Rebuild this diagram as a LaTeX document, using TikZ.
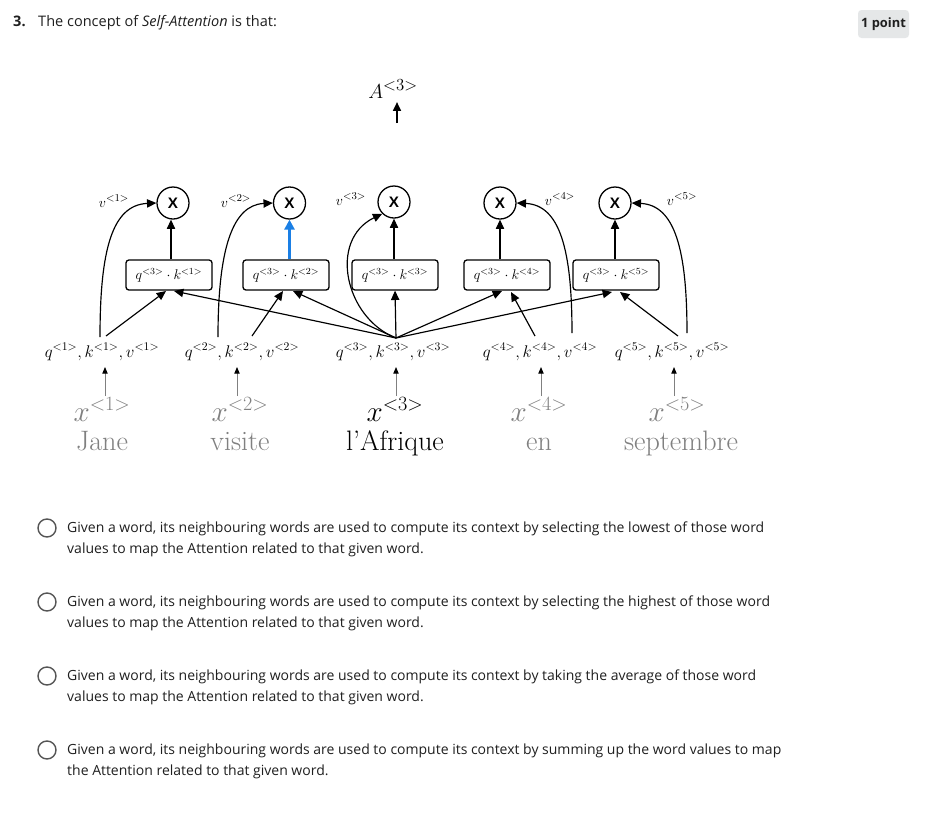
\documentclass[tikz,border=0pt]{standalone}
\usepackage{fontspec}
\usetikzlibrary{arrows.meta,calc}
\newfontfamily\osans{Open Sans}
\newfontfamily\lsans{Liberation Sans}
\definecolor{wordgray}{HTML}{808080}
\definecolor{uitext}{HTML}{1F1F1F}
\definecolor{badgebg}{HTML}{E5E7E8}
\definecolor{myblue}{HTML}{1A7FE5}
\definecolor{radiogray}{HTML}{555555}
\begin{document}
\begin{tikzpicture}[x=0.3mm,y=-0.3mm,
  conn/.style={line width=1pt,-{Triangle[length=2.8mm,width=2.5mm]}},
  thinarr/.style={line width=0.8pt,draw=wordgray,-{Triangle[length=2mm,width=1.6mm,color=black]}},
  dotbox/.style={draw,line width=1.1pt,rounded corners=2.5pt,minimum width=25.8mm,minimum height=9mm,inner sep=0pt,font=\fontsize{11.5}{13}\selectfont},
  mult/.style={circle,draw,line width=1.1pt,minimum size=9.6mm,inner sep=0pt,font=\lsans\bfseries\fontsize{13}{15}\selectfont},
  qkv/.style={anchor=base,font=\fontsize{13.8}{16}\selectfont},
  vlab/.style={anchor=base,font=\fontsize{13}{15}\selectfont},
  xlab/.style={anchor=base,font=\fontsize{24}{26}\selectfont},
  wordlab/.style={anchor=base,font=\fontsize{24}{26}\selectfont},
  ui/.style={anchor=base west,text=uitext,font=\osans\fontsize{11.95}{14}\selectfont,inner sep=0pt},
  radio/.style={circle,draw=radiogray,line width=1.2pt,minimum size=5.4mm,inner sep=0pt}
]
\fill[white] (0,0) rectangle (943,819);
\path[use as bounding box] (0,0) rectangle (943,819);

% header
\node[ui,font=\osans\bfseries\fontsize{12.4}{14}\selectfont] (num) at (13,26) {3.};
\node[ui,font=\osans\fontsize{12.4}{14}\selectfont] (qtext) at (38,26) {The concept of \textit{Self-Attention} is that:};
\node[fill=badgebg,rounded corners=3pt,minimum width=15.3mm,minimum height=8.4mm,inner sep=0pt,text=uitext,font=\osans\bfseries\fontsize{11}{13}\selectfont] (badge) at (883.5,24) {1 point};

% output
\node[anchor=base,font=\fontsize{19}{21}\selectfont] (A) at (393,98) {$A^{<3>}$};
\coordinate (Abot) at (397,123);
\draw[line width=1pt,-{Triangle[length=2.6mm,width=2.4mm]}] (Abot) -- (A.south -| Abot);

% multiply circles
\node[mult] (c1) at (173,203) {X};
\node[mult] (c2) at (289.5,203) {X};
\node[mult] (c3) at (394,202) {X};
\node[mult] (c4) at (500,203) {X};
\node[mult] (c5) at (615,203) {X};

% boxes
\node[dotbox] (b1) at (169,275) {$q^{<3>}\cdot k^{<1>}$};
\node[dotbox] (b2) at (286,275) {$q^{<3>}\cdot k^{<2>}$};
\node[dotbox] (b3) at (395,275) {$q^{<3>}\cdot k^{<3>}$};
\node[dotbox] (b4) at (507,275) {$q^{<3>}\cdot k^{<4>}$};
\node[dotbox] (b5) at (616,275) {$q^{<3>}\cdot k^{<5>}$};

\draw[conn] (b1.north -| c1.south) ++(-2,0) -- ($(c1.south)+(-2,0)$);
\draw[line width=2.2pt,draw=myblue,-{Triangle[length=3mm,width=3mm]}] (b2.north -| c2.south) -- (c2.south);
\draw[conn] (b3.north -| c3.south) -- (c3.south);
\draw[conn] (b4.north -| c4.south) -- (c4.south);
\draw[conn] (b5.north -| c5.south) -- (c5.south);

% v labels
\node[vlab] (v1) at (114,207) {$v^{<1>}$};
\node[vlab] (v2) at (236,207) {$v^{<2>}$};
\node[vlab] (v3) at (351,205) {$v^{<3>}$};
\node[vlab] (v4) at (560,205) {$v^{<4>}$};
\node[vlab] (v5) at (682,205) {$v^{<5>}$};

% qkv labels
\node[qkv] (k1) at (102,357) {$q^{<1>}, k^{<1>}, v^{<1>}$};
\node[qkv] (k2) at (242,357) {$q^{<2>}, k^{<2>}, v^{<2>}$};
\node[qkv] (k3) at (393,357) {$q^{<3>}, k^{<3>}, v^{<3>}$};
\node[qkv] (k4) at (540,357) {$q^{<4>}, k^{<4>}, v^{<4>}$};
\node[qkv] (k5) at (672,357) {$q^{<5>}, k^{<5>}, v^{<5>}$};

% inputs
\node[xlab,text=wordgray] (x1) at (102,421) {$x^{<1>}$};
\node[xlab,text=wordgray] (x2) at (240,421) {$x^{<2>}$};
\node[xlab] (x3) at (395,421) {$x^{<3>}$};
\node[xlab,text=wordgray] (x4) at (539,421) {$x^{<4>}$};
\node[xlab,text=wordgray] (x5) at (677,421) {$x^{<5>}$};
\node[wordlab,text=wordgray] (w1) at (102,450) {Jane};
\node[wordlab,text=wordgray] (w2) at (240,450) {visite};
\node[wordlab] (w3) at (395,450) {l'Afrique};
\node[wordlab,text=wordgray] (w4) at (539,450) {en};
\node[wordlab,text=wordgray] (w5) at (681,450) {septembre};

\coordinate (i1) at (105,396); \coordinate (o1) at (105,367);
\coordinate (i2) at (237,396); \coordinate (o2) at (237,367);
\coordinate (i3) at (396,396); \coordinate (o3) at (396,367);
\coordinate (i4) at (541,396); \coordinate (o4) at (541,367);
\coordinate (i5) at (674,396); \coordinate (o5) at (674,367);
\draw[thinarr] (i1) -- (o1);
\draw[thinarr] (i2) -- (o2);
\draw[thinarr] (i3) -- (o3);
\draw[thinarr] (i4) -- (o4);
\draw[thinarr] (i5) -- (o5);

% fan from q3
\coordinate (f) at (396,338);
\coordinate (t1a) at (166,291); \coordinate (t1b) at (174,291);
\coordinate (t2a) at (283,291); \coordinate (t2b) at (293,291);
\coordinate (t4a) at (502,291); \coordinate (t4b) at (511,292);
\coordinate (t5a) at (612,292); \coordinate (t5b) at (620,292);
\draw[conn] (f) -- (t1b);
\draw[conn] (f) -- (t2b);
\draw[conn] (f) -- (b3.south);
\draw[conn] (f) -- (t4a);
\draw[conn] (f) -- (t5a);

\coordinate (s1) at (106,336);
\coordinate (s2) at (252,336);
\coordinate (s4) at (535,336);
\coordinate (s5) at (678,336);
\draw[conn] (s1) -- (t1a);
\draw[conn] (s2) -- (t2a);
\draw[conn] (s4) -- (t4b);
\draw[conn] (s5) -- (t5b);

% value curves
\coordinate (u1) at (100,337);
\coordinate (u2) at (218,337);
\coordinate (u4) at (572,333);
\coordinate (u5) at (687,333);
\draw[conn] (u1) .. controls (100,250) and (112,205) .. (c1.west);
\draw[conn] (u2) .. controls (218,250) and (232,205) .. (c2.west);
\draw[conn] (f) .. controls (345,318) and (328,240) .. (c3.south west);
\draw[conn] (u4) .. controls (572,250) and (560,205) .. (c4.east);
\draw[conn] (u5) .. controls (687,250) and (675,205) .. (c5.east);

% options
\node[radio] (r1) at (47,528) {};
\node[ui] (o1a) at (67,532) {Given a word, its neighbouring words are used to compute its context by selecting the lowest of those word};
\node[ui] (o1b) at (67,553) {values to map the Attention related to that given word.};
\node[radio] (r2) at (47,602) {};
\node[ui] (o2a) at (67,606) {Given a word, its neighbouring words are used to compute its context by selecting the highest of those word};
\node[ui] (o2b) at (67,627) {values to map the Attention related to that given word.};
\node[radio] (r3) at (47,676) {};
\node[ui] (o3a) at (67,680) {Given a word, its neighbouring words are used to compute its context by taking the average of those word};
\node[ui] (o3b) at (67,701) {values to map the Attention related to that given word.};
\node[radio] (r4) at (47,750) {};
\node[ui] (o4a) at (67,754) {Given a word, its neighbouring words are used to compute its context by summing up the word values to map};
\node[ui] (o4b) at (67,775) {the Attention related to that given word.};
\end{tikzpicture}
\end{document}
